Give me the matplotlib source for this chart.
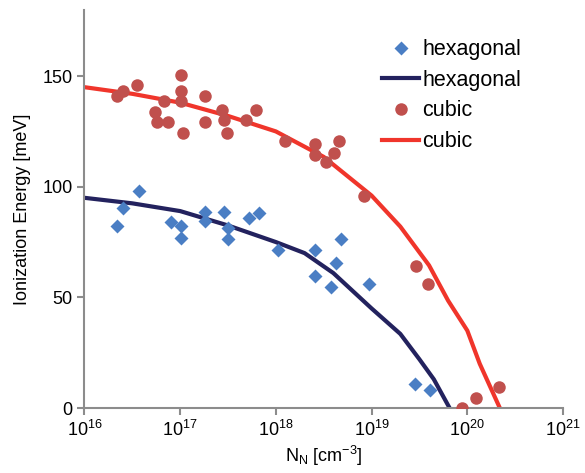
import numpy as np
import matplotlib
matplotlib.use('Agg')
import matplotlib.pyplot as plt

plt.rcParams['font.family'] = ['Liberation Sans', 'DejaVu Sans']
plt.rcParams['mathtext.fontset'] = 'custom'
plt.rcParams['mathtext.rm'] = 'Liberation Sans'
plt.rcParams['mathtext.it'] = 'Liberation Sans:italic'

# --- data (log10 of N_N, energy in meV) ---
hex_logn = [16.34, 16.405, 16.572, 16.90, 17.004, 17.004, 17.258, 17.258, 17.456,
            17.50, 17.50, 17.717, 17.82, 18.02, 18.41, 18.41, 18.573, 18.625,
            18.685, 18.97, 19.457, 19.606]
hex_e = [82.4, 90.6, 98.2, 84.0, 82.4, 76.8, 88.8, 84.3, 88.4,
         81.3, 76.3, 85.8, 88.1, 71.5, 71.5, 59.7, 54.9, 65.7,
         76.3, 56.1, 10.7, 8.1]

cub_logn = [16.34, 16.405, 16.545, 16.736, 16.754, 16.833, 16.868, 17.004, 17.004,
            17.004, 17.031, 17.258, 17.258, 17.432, 17.456, 17.484, 17.686, 17.797,
            18.10, 18.406, 18.406, 18.52, 18.608, 18.66, 18.918, 19.46, 19.59,
            19.944, 20.087, 20.33]
cub_e = [140.9, 143.4, 145.8, 133.8, 129.1, 138.6, 129.1, 150.4, 143.4,
         138.6, 124.3, 140.9, 129.1, 134.8, 130.0, 124.3, 130.0, 134.8,
         120.5, 119.3, 114.5, 111.2, 115.2, 120.5, 95.6, 64.3, 56.1,
         0.0, 4.5, 9.4]

hex_fit_logn = [16.0, 16.5, 17.0, 17.5, 18.0, 18.3, 18.6, 19.0, 19.3, 19.5, 19.65, 19.815]
hex_fit_e = [95.0, 92.5, 89.0, 82.5, 75.0, 70.0, 61.0, 45.0, 33.5, 22.0, 13.0, 0.0]

cub_fit_logn = [16.0, 16.5, 17.0, 17.5, 18.0, 18.5, 19.0, 19.3, 19.6, 19.8, 20.0, 20.13, 20.34]
cub_fit_e = [145.0, 142.0, 138.0, 132.0, 125.0, 113.5, 96.0, 82.0, 64.5, 48.5, 35.0, 20.0, 0.0]

C_HEX = '#4A7EC4'
C_HEX_LINE = '#23225E'
C_CUB = '#C0504D'
C_CUB_LINE = '#F0352B'
C_AXIS = '#8C8C8C'

fig = plt.figure(figsize=(5.85, 4.73), dpi=100)
ax = fig.add_axes([0.1444, 0.1374, 0.818, 0.842])

ax.plot(10 ** np.array(hex_logn), hex_e, 'D', color=C_HEX, ms=7.5, mec='none',
        label='hexagonal', zorder=3)
ax.plot(10 ** np.array(hex_fit_logn), hex_fit_e, '-', color=C_HEX_LINE, lw=3,
        label='hexagonal', zorder=2)
ax.plot(10 ** np.array(cub_logn), cub_e, 'o', color=C_CUB, ms=9, mec='none',
        label='cubic', zorder=3)
ax.plot(10 ** np.array(cub_fit_logn), cub_fit_e, '-', color=C_CUB_LINE, lw=3,
        label='cubic', zorder=2)

ax.set_xscale('log')
ax.set_xlim(1e16, 1e21)
ax.set_ylim(0, 180)
ax.set_xticks([1e16, 1e17, 1e18, 1e19, 1e20, 1e21])
ax.minorticks_off()
ax.set_yticks([0, 50, 100, 150])

for s in ['top', 'right']:
    ax.spines[s].set_visible(False)
for s in ['left', 'bottom']:
    ax.spines[s].set_color(C_AXIS)
    ax.spines[s].set_linewidth(1.5)
ax.tick_params(colors=C_AXIS, labelcolor='black', labelsize=13, width=1.5,
               length=5, direction='out')

ax.set_xlabel(r'N$_\mathrm{N}$ [cm$^{-3}$]', fontsize=13, labelpad=3)
ax.set_ylabel('Ionization Energy [meV]', fontsize=13, labelpad=8)

leg = ax.legend(loc='upper right', bbox_to_anchor=(0.953, 0.975), frameon=False,
                fontsize=15.5, handlelength=1.7, labelspacing=0.45, handletextpad=0.15)

fig.savefig('out.png', dpi=100)
